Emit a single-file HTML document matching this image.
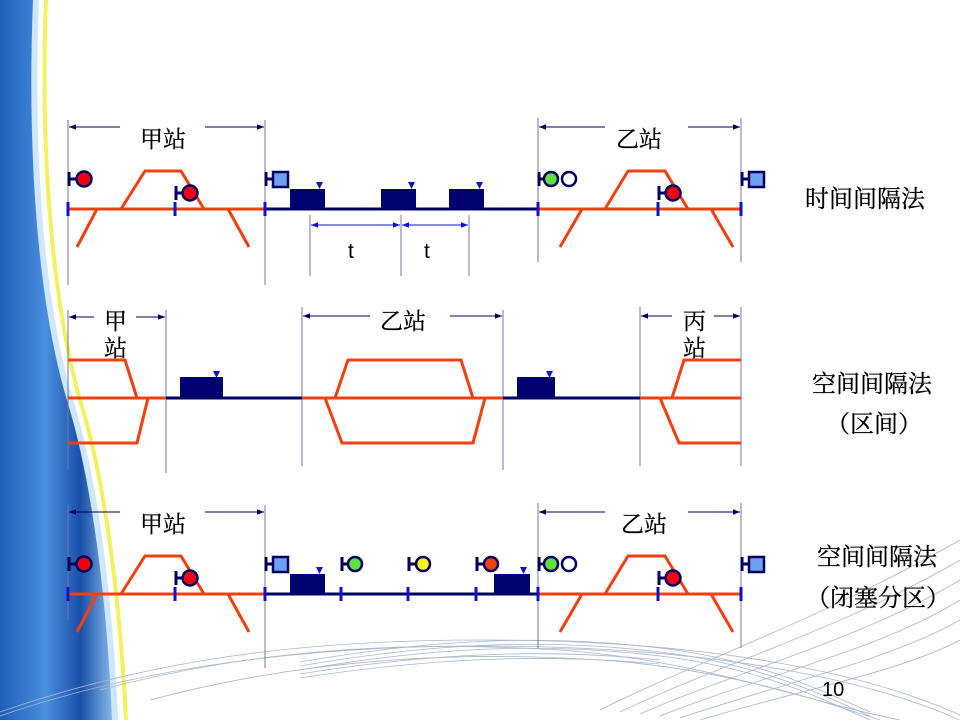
<!DOCTYPE html>
<html><head><meta charset="utf-8"><style>
html,body{margin:0;padding:0;background:#fff}
svg{display:block}
.cj{font-family:"Liberation Serif","Noto Serif CJK SC","Noto Sans CJK SC",serif;font-size:23px;fill:#000;stroke:#000;stroke-width:0.3}
.lb{font-size:24px}
</style></head><body>
<svg width="960" height="720" viewBox="0 0 960 720" xmlns="http://www.w3.org/2000/svg">
<defs>
<linearGradient id="bl" x1="0" y1="0" x2="1" y2="0">
<stop offset="0" stop-color="#1d5fb8"/><stop offset="0.4" stop-color="#4a8fe0"/><stop offset="0.7" stop-color="#1a4fa8"/><stop offset="1" stop-color="#8cc0f0"/>
</linearGradient>
<marker id="ah" viewBox="0 0 10 10" refX="10" refY="5" markerWidth="7" markerHeight="7" orient="auto-start-reverse"><path d="M0,1 L10,5 L0,9 z" fill="#000060"/></marker>
<marker id="ab" viewBox="0 0 10 10" refX="10" refY="5" markerWidth="7" markerHeight="7" orient="auto-start-reverse"><path d="M0,1 L10,5 L0,9 z" fill="#1010d0"/></marker>
<g id="sig"><line x1="0" y1="-7" x2="0" y2="7" stroke="#000060" stroke-width="3"/><line x1="0" y1="0" x2="8" y2="0" stroke="#000060" stroke-width="3"/></g>
</defs>
<path d="M0,0 L36,0 C30,150 40,300 70,400 C95,480 110,600 115,720 L0,720 Z" fill="url(#bl)"/>
<path d="M36,0 C30,150 40,300 70,400 C95,480 110,600 115,720" fill="none" stroke="#cfe6ff" stroke-width="6"/>
<path d="M46,0 C40,150 52,300 80,400 C105,480 120,600 126,720" fill="none" stroke="#f4f060" stroke-width="4"/>
<g fill="none" stroke="#a8b6cc" stroke-width="0.8">
<path d="M0,712 C150,660 300,640 480,640 C700,640 860,670 960,715"/>
<path d="M0,716 C150,664 320,646 480,646 C700,646 860,676 960,720"/>
<path d="M100,690 C250,650 400,640 560,650 C700,660 800,700 900,720"/>
<path d="M150,700 C300,660 450,650 600,660 C720,668 820,700 880,720"/>
<path d="M300,662 C450,636 560,636 660,648 C760,660 820,690 870,712"/>
<path d="M300,666 C450,640 560,640 660,652 C760,664 820,694 870,716"/>
<path d="M300,670 C450,644 560,644 660,656 C760,668 820,698 870,720"/>
<path d="M300,674 C450,650 560,650 660,660"/>
<path d="M300,678 C450,655 560,655 660,664"/>
<path d="M600,710 C700,660 820,620 960,540"/>
<path d="M620,712 C720,664 840,630 960,560"/>
<path d="M640,714 C740,670 860,640 960,580"/>
<path d="M660,716 C760,676 880,650 960,600"/>
<path d="M680,718 C780,684 890,660 960,620"/>
<path d="M700,720 C800,690 900,672 960,640"/>
</g>

<g stroke="#7078a0" stroke-width="1">
<line x1="68" y1="120" x2="68" y2="285"/><line x1="265" y1="120" x2="265" y2="285"/>
<line x1="538" y1="118" x2="538" y2="262"/><line x1="741" y1="118" x2="741" y2="262"/>
<line x1="310" y1="215" x2="310" y2="276"/><line x1="401" y1="215" x2="401" y2="276"/><line x1="469" y1="215" x2="469" y2="276"/>
</g>
<g stroke="#000060" stroke-width="1">
<line x1="120" y1="127" x2="69" y2="127" marker-end="url(#ah)"/><line x1="205" y1="127" x2="264" y2="127" marker-end="url(#ah)"/>
<line x1="605" y1="127" x2="539" y2="127" marker-end="url(#ah)"/><line x1="688" y1="127" x2="740" y2="127" marker-end="url(#ah)"/>
</g>
<g stroke="#1010d0" stroke-width="1">
<line x1="311" y1="225" x2="400" y2="225" marker-start="url(#ab)" marker-end="url(#ab)"/>
<line x1="402" y1="225" x2="468" y2="225" marker-start="url(#ab)" marker-end="url(#ab)"/>
</g>
<text class="cj" x="140" y="147">甲站</text><text class="cj" x="616" y="147">乙站</text>
<text x="348" y="258" font-family="Liberation Sans" font-size="21">t</text><text x="424" y="258" font-family="Liberation Sans" font-size="21">t</text>
<g stroke="#f04010" stroke-width="3" fill="none">
<line x1="68" y1="209" x2="265" y2="209"/><polyline points="121,209 145,171 181,171 204,209"/>
<line x1="97" y1="209" x2="77" y2="247"/><line x1="228" y1="209" x2="249" y2="247"/>
<line x1="538" y1="209" x2="741" y2="209"/><polyline points="605,209 628,171 665,171 688,209"/>
<line x1="582" y1="209" x2="560" y2="247"/><line x1="711" y1="209" x2="733" y2="247"/>
</g>
<line x1="265" y1="209" x2="538" y2="209" stroke="#000060" stroke-width="3"/>
<g fill="#000070"><rect x="290" y="189" width="35" height="20"/><rect x="381" y="189" width="35" height="20"/><rect x="449" y="189" width="35" height="20"/></g>
<g fill="#1010d0"><path d="M316,182h7l-3.5,7z"/><path d="M408,182h7l-3.5,7z"/><path d="M476,182h7l-3.5,7z"/></g>
<g stroke="#1010d0" stroke-width="3"><line x1="68" y1="202" x2="68" y2="216"/><line x1="175" y1="202" x2="175" y2="216"/><line x1="265" y1="202" x2="265" y2="216"/><line x1="538" y1="202" x2="538" y2="216"/><line x1="658" y1="202" x2="658" y2="216"/><line x1="741" y1="202" x2="741" y2="216"/></g>
<g stroke="#000060" stroke-width="2.5">
<use href="#sig" x="69" y="179"/><circle cx="84" cy="179" r="7.5" fill="#f00010"/>
<use href="#sig" x="176" y="193"/><circle cx="190" cy="193" r="7.5" fill="#f00010"/>
<use href="#sig" x="266" y="179"/><rect x="273" y="172" width="15" height="15" fill="#70a0f0"/>
<use href="#sig" x="539" y="179"/><circle cx="551" cy="179" r="7" fill="#60e040"/><circle cx="569" cy="179" r="7" fill="#fff"/>
<use href="#sig" x="659" y="193"/><circle cx="673" cy="193" r="7.5" fill="#f00010"/>
<use href="#sig" x="742" y="179"/><rect x="749" y="172" width="15" height="15" fill="#70a0f0"/>
</g>
<text class="cj lb" x="805" y="207">时间间隔法</text>

<g stroke="#7078a0" stroke-width="1">
<line x1="68" y1="310" x2="68" y2="470"/><line x1="166" y1="310" x2="166" y2="473"/>
<line x1="302" y1="307" x2="302" y2="466"/><line x1="503" y1="310" x2="503" y2="470"/>
<line x1="640" y1="307" x2="640" y2="466"/><line x1="741" y1="307" x2="741" y2="466"/>
</g>
<g stroke="#000060" stroke-width="1">
<line x1="94" y1="317" x2="69" y2="317" marker-end="url(#ah)"/><line x1="136" y1="317" x2="165" y2="317" marker-end="url(#ah)"/>
<line x1="370" y1="316" x2="303" y2="316" marker-end="url(#ah)"/><line x1="450" y1="316" x2="502" y2="316" marker-end="url(#ah)"/>
<line x1="672" y1="316" x2="641" y2="316" marker-end="url(#ah)"/><line x1="714" y1="316" x2="740" y2="316" marker-end="url(#ah)"/>
</g>
<text class="cj" x="104" y="329">甲</text><text class="cj" x="104" y="356">站</text>
<text class="cj" x="380" y="329">乙站</text>
<text class="cj" x="683" y="329">丙</text><text class="cj" x="683" y="356">站</text>
<g stroke="#f04010" stroke-width="3" fill="none">
<line x1="68" y1="398" x2="166" y2="398"/><polyline points="68,360 125,360 137,398"/><polyline points="68,443 137,443 148,398"/>
<line x1="302" y1="398" x2="503" y2="398"/><polyline points="335,398 348,360 461,360 473,398"/><polyline points="325,398 342,443 473,443 485,398"/>
<line x1="640" y1="398" x2="741" y2="398"/><polyline points="672,398 684,360 741,360"/><polyline points="660,398 679,443 741,443"/>
</g>
<line x1="166" y1="398" x2="302" y2="398" stroke="#000060" stroke-width="3"/>
<line x1="503" y1="398" x2="640" y2="398" stroke="#000060" stroke-width="3"/>
<g fill="#000070"><rect x="180" y="377" width="43" height="20"/><rect x="517" y="377" width="38" height="20"/></g>
<g fill="#1010d0"><path d="M213,371h7l-3.5,7z"/><path d="M546,371h7l-3.5,7z"/></g>
<text class="cj lb" x="812" y="392">空间间隔法</text>
<text class="cj lb" x="826" y="432">（区间）</text>

<g stroke="#7078a0" stroke-width="1">
<line x1="68" y1="505" x2="68" y2="620"/><line x1="265" y1="505" x2="265" y2="668"/>
<line x1="538" y1="503" x2="538" y2="648"/><line x1="741" y1="503" x2="741" y2="648"/>
</g>
<g stroke="#000060" stroke-width="1">
<line x1="120" y1="512" x2="69" y2="512" marker-end="url(#ah)"/><line x1="205" y1="512" x2="264" y2="512" marker-end="url(#ah)"/>
<line x1="605" y1="512" x2="539" y2="512" marker-end="url(#ah)"/><line x1="688" y1="512" x2="740" y2="512" marker-end="url(#ah)"/>
</g>
<text class="cj" x="140" y="532">甲站</text><text class="cj" x="621" y="532">乙站</text>
<g stroke="#f04010" stroke-width="3" fill="none">
<line x1="68" y1="594" x2="265" y2="594"/><polyline points="121,594 145,556 181,556 204,594"/>
<line x1="97" y1="594" x2="77" y2="632"/><line x1="228" y1="594" x2="249" y2="632"/>
<line x1="538" y1="594" x2="741" y2="594"/><polyline points="605,594 628,556 665,556 688,594"/>
<line x1="582" y1="594" x2="560" y2="632"/><line x1="711" y1="594" x2="733" y2="632"/>
</g>
<line x1="265" y1="594" x2="538" y2="594" stroke="#000060" stroke-width="3"/>
<g fill="#000070"><rect x="290" y="574" width="35" height="20"/><rect x="494" y="574" width="36" height="20"/></g>
<g fill="#1010d0"><path d="M316,567h7l-3.5,7z"/><path d="M520,567h7l-3.5,7z"/></g>
<g stroke="#1010d0" stroke-width="3"><line x1="68" y1="587" x2="68" y2="601"/><line x1="175" y1="587" x2="175" y2="601"/><line x1="265" y1="587" x2="265" y2="601"/><line x1="341" y1="587" x2="341" y2="601"/><line x1="408" y1="587" x2="408" y2="601"/><line x1="476" y1="587" x2="476" y2="601"/><line x1="538" y1="587" x2="538" y2="601"/><line x1="658" y1="587" x2="658" y2="601"/><line x1="741" y1="587" x2="741" y2="601"/></g>
<g stroke="#000060" stroke-width="2.5">
<use href="#sig" x="69" y="564"/><circle cx="84" cy="564" r="7.5" fill="#f00010"/>
<use href="#sig" x="176" y="578"/><circle cx="190" cy="578" r="7.5" fill="#f00010"/>
<use href="#sig" x="266" y="564"/><rect x="273" y="557" width="15" height="15" fill="#70a0f0"/>
<use href="#sig" x="342" y="564"/><circle cx="355" cy="564" r="7" fill="#60e040"/>
<use href="#sig" x="409" y="564"/><circle cx="423" cy="564" r="7" fill="#f8f020"/>
<use href="#sig" x="477" y="564"/><circle cx="491" cy="564" r="7" fill="#f04010"/>
<use href="#sig" x="539" y="564"/><circle cx="551" cy="564" r="7" fill="#60e040"/><circle cx="569" cy="564" r="7" fill="#fff"/>
<use href="#sig" x="659" y="578"/><circle cx="673" cy="578" r="7.5" fill="#f00010"/>
<use href="#sig" x="742" y="564"/><rect x="749" y="557" width="15" height="15" fill="#70a0f0"/>
</g>
<text class="cj lb" x="817" y="565">空间间隔法</text>
<text class="cj lb" x="806" y="606">（闭塞分区）</text>
<text x="822" y="696" font-family="Liberation Sans" font-size="20">10</text>
</svg>
</body></html>
